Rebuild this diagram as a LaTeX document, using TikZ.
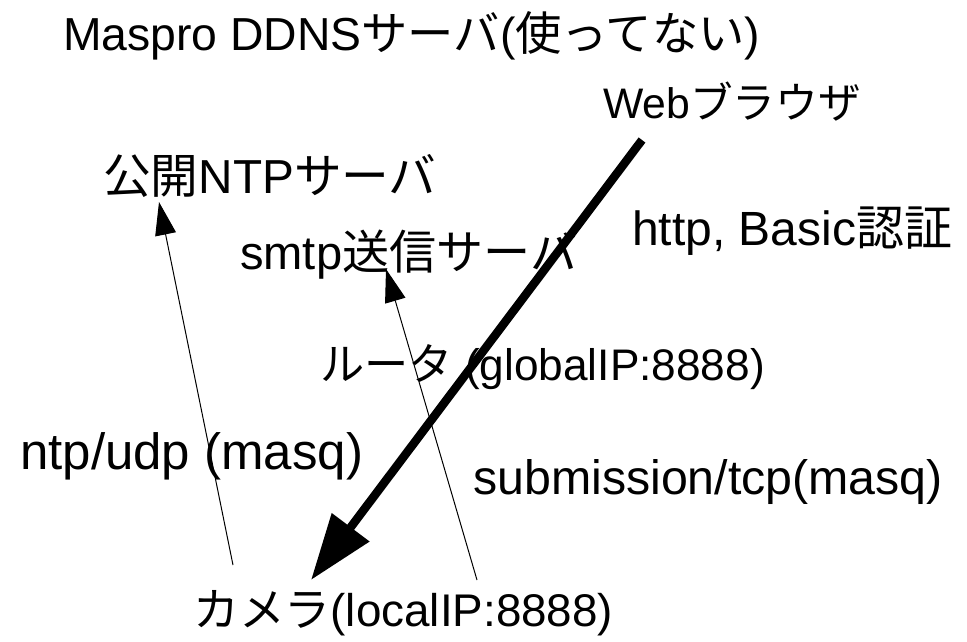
\documentclass[tikz,border=0pt]{standalone}
\usepackage{fontspec}
\setmainfont{Liberation Sans}
\newfontfamily\jp{Noto Sans CJK JP}
\usetikzlibrary{arrows.meta}
\begin{document}
\begin{tikzpicture}[x=1pt,y=-1pt,
  lbl/.style={anchor=base west, inner sep=0pt, font=\fontsize{#1}{#1}\selectfont},
  thinarrow/.style={line width=1pt, -{Triangle[length=33pt,width=21pt]}},
  thickarrow/.style={line width=8.5pt, -{Triangle[length=66pt,width=45pt]}}]
\useasboundingbox (0,0) rectangle (967,641);
\node[lbl=46.3] (ddns) at (63,50) {Maspro DDNS{\jp サーバ}({\jp 使ってない})};
\node[lbl=42.7] (web) at (603,118) {Web{\jp ブラウザ}};
\node[lbl=47.7] (ntps) at (103,193) {{\jp 公開}NTP{\jp サーバ}};
\node[lbl=48] (http) at (632,245) {http, Basic{\jp 認証}};
\node[lbl=47.1] (smtp) at (240,269) {smtp{\jp 送信サーバ}};
\node[lbl=44.2] (router) at (320,380) {{\jp ルータ} (globalIP:8888)};
\node[lbl=51] (ntpudp) at (20,469) {ntp/udp (masq)};
\node[lbl=48.3] (subm) at (473,494) {submission/tcp(masq)};
\node[lbl=45.8] (cam) at (193,626) {{\jp カメラ}(localIP:8888)};
\coordinate (ntpfrom) at (233,565);
\coordinate (ntpto) at (159,202);
\coordinate (smtpfrom) at (477,580);
\coordinate (smtpto) at (386,269);
\coordinate (webfrom) at (642,140);
\coordinate (camto) at (311,580);
\draw[thinarrow] (ntpfrom) -- (ntpto);
\draw[thinarrow] (smtpfrom) -- (smtpto);
\draw[thickarrow] (webfrom) -- (camto);
\end{tikzpicture}
\end{document}
